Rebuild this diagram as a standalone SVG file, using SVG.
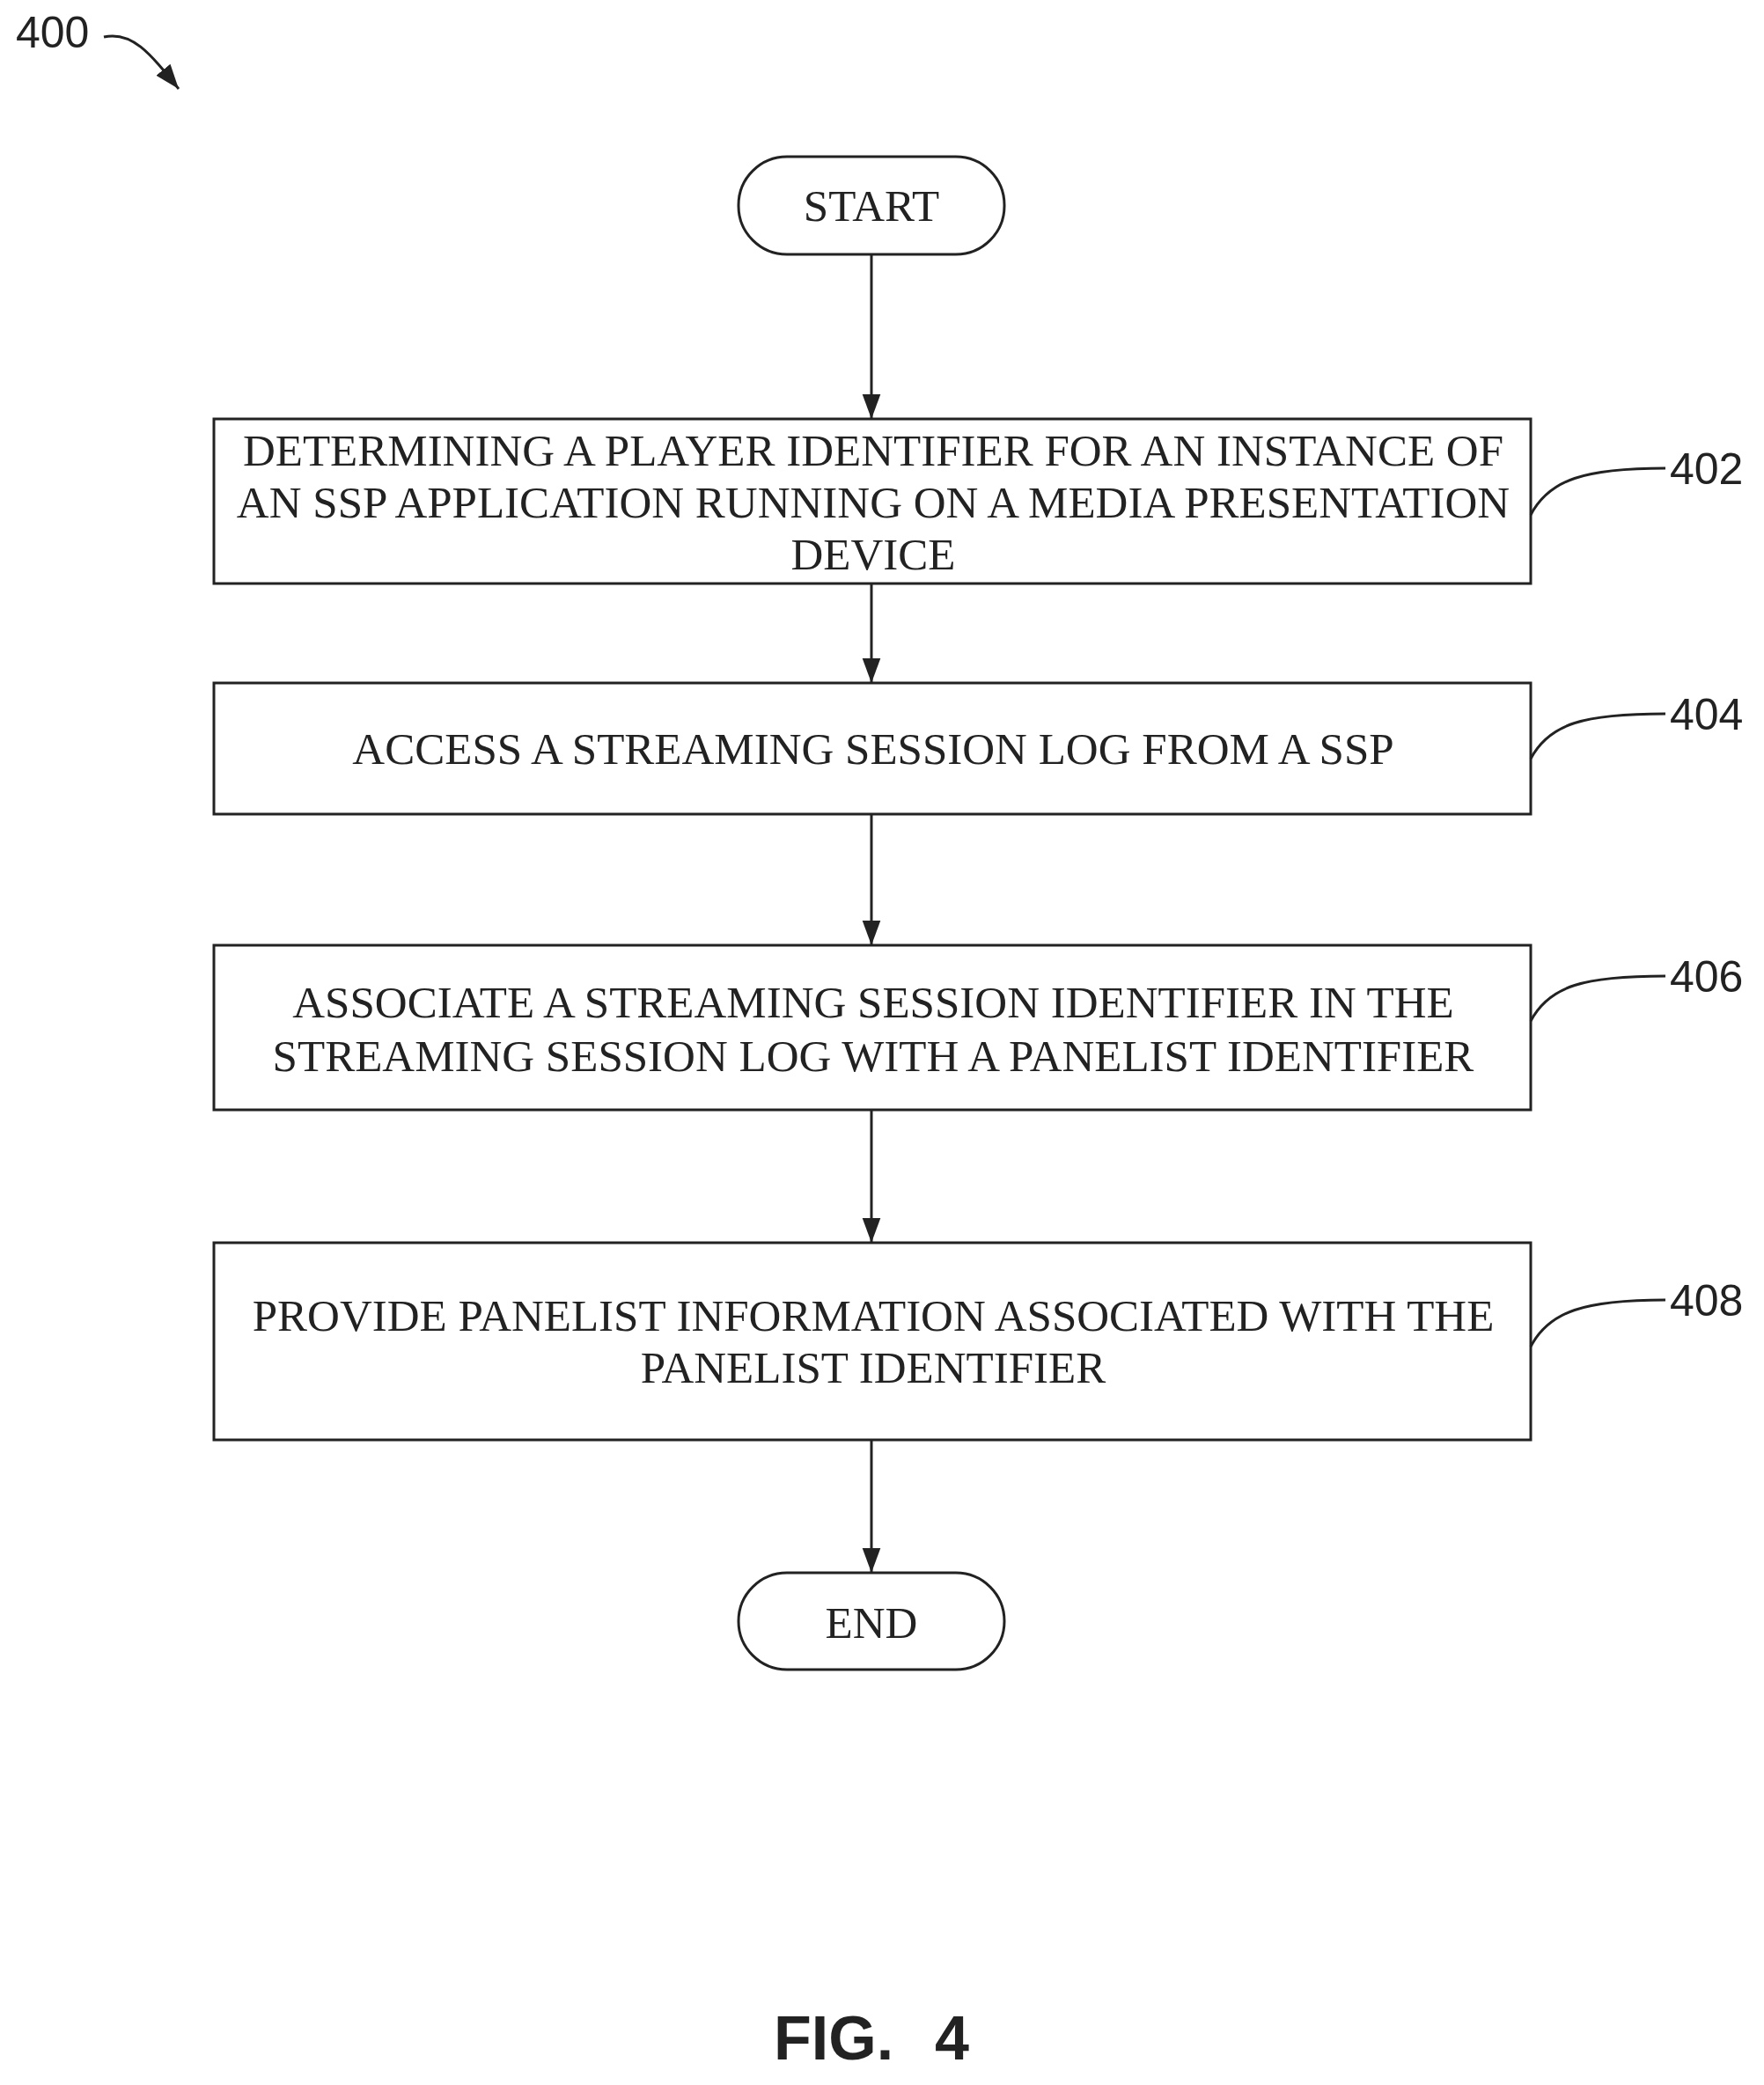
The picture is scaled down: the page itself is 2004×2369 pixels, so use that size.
<svg xmlns="http://www.w3.org/2000/svg" width="2004" height="2369" viewBox="0 0 2004 2369">
<style>
.b{fill:#fff;stroke:#222;stroke-width:3}
.t{font-family:"Liberation Serif",serif;font-size:51px;fill:#222;text-anchor:middle}
.n{font-family:"Liberation Sans",sans-serif;font-size:50px;fill:#222}
.c{fill:none;stroke:#222;stroke-width:3}
</style>
<defs><marker id="a" markerWidth="28" markerHeight="38" refX="38" refY="14" orient="auto" markerUnits="userSpaceOnUse" viewBox="0 0 38 28"><path d="M0,0L38,14L0,28z" fill="#222"/></marker>
<marker id="h" markerWidth="28" markerHeight="38" refX="38" refY="14" orient="auto" markerUnits="userSpaceOnUse" viewBox="0 0 38 28"><path d="M0,0L38,14L0,28z" fill="#222"/></marker></defs>
<rect width="2004" height="2369" fill="#fff"/>
<g id="ref400"><text class="n" x="18" y="54">400</text><path class="c" d="M118,42 C150,35 170,60 203,101" marker-end="url(#h)"/></g>
<g id="start"><rect class="b" x="839" y="178" width="302" height="111" rx="55"/><text class="t" x="990" y="251">START</text></g>
<g id="n402"><rect class="b" x="243" y="476" width="1496" height="187"/><text class="t" x="992" y="529">DETERMINING A PLAYER IDENTIFIER FOR AN INSTANCE OF</text><text class="t" x="992" y="588">AN SSP APPLICATION RUNNING ON A MEDIA PRESENTATION</text><text class="t" x="992" y="647">DEVICE</text></g>
<g id="n404"><rect class="b" x="243" y="776" width="1496" height="149"/><text class="t" x="992" y="868">ACCESS A STREAMING SESSION LOG FROM A SSP</text></g>
<g id="n406"><rect class="b" x="243" y="1074" width="1496" height="187"/><text class="t" x="992" y="1156">ASSOCIATE A STREAMING SESSION IDENTIFIER IN THE</text><text class="t" x="992" y="1217">STREAMING SESSION LOG WITH A PANELIST IDENTIFIER</text></g>
<g id="n408"><rect class="b" x="243" y="1412" width="1496" height="224"/><text class="t" x="992" y="1512">PROVIDE PANELIST INFORMATION ASSOCIATED WITH THE</text><text class="t" x="992" y="1571">PANELIST IDENTIFIER</text></g>
<g id="end"><rect class="b" x="839" y="1787" width="302" height="110" rx="55"/><text class="t" x="990" y="1861">END</text></g>
<g id="labels">
<text class="n" x="1897" y="550">402</text><path class="c" d="M1739,585 C1760,545 1800,532 1892,532"/>
<text class="n" x="1897" y="829">404</text><path class="c" d="M1739,862 C1760,822 1800,811 1892,811"/>
<text class="n" x="1897" y="1127">406</text><path class="c" d="M1739,1160 C1760,1120 1800,1109 1892,1109"/>
<text class="n" x="1897" y="1495">408</text><path class="c" d="M1739,1530 C1760,1490 1800,1477 1892,1477"/>
</g>
<g id="connectors">
<line class="c" x1="990" y1="289" x2="990" y2="476" marker-end="url(#a)"/>
<line class="c" x1="990" y1="663" x2="990" y2="776" marker-end="url(#a)"/>
<line class="c" x1="990" y1="925" x2="990" y2="1074" marker-end="url(#a)"/>
<line class="c" x1="990" y1="1261" x2="990" y2="1412" marker-end="url(#a)"/>
<line class="c" x1="990" y1="1636" x2="990" y2="1787" marker-end="url(#a)"/>
</g>
<text x="879" y="2340" font-family="Liberation Sans,sans-serif" font-weight="bold" font-size="70" fill="#222">FIG.</text>
<text x="1062" y="2340" font-family="Liberation Sans,sans-serif" font-weight="bold" font-size="70" fill="#222">4</text>
</svg>
